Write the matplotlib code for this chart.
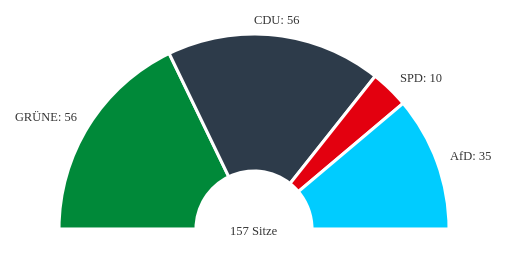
import numpy as np
import matplotlib
matplotlib.use("Agg")
from matplotlib import pyplot as plt

parties = ["GRÜNE", "CDU", "SPD", "AfD"]
seats = [56, 56, 10, 35]
colors = ["#008939", "#2D3B4A", "#E3000F", "#00CCFF"]

total = sum(seats)

fig = plt.figure(figsize=(5.17, 2.56), dpi=100)
ax = fig.add_axes([0, 0, 1, 1])

cx, cy = 254, 27
r_out, r_in = 195, 58

# the last (hidden) slice fills the lower half
wedges, _ = ax.pie(seats + [total], colors=colors + ["white"], startangle=180,
                   counterclock=False, radius=r_out, center=(cx, cy), frame=False,
                   wedgeprops=dict(width=r_out - r_in, edgecolor="white", linewidth=2.2))
wedges[-1].set_visible(False)

# labels around the arc
start = 180.0
for name, n in zip(parties, seats):
    span = n / total * 180.0
    mid = np.radians(start - span / 2)
    start -= span
    lx = cx + 209 * np.cos(mid)
    ly = cy + 209 * np.sin(mid)
    if np.cos(mid) < -0.2:
        ha = "right"
    elif np.cos(mid) > 0.2:
        ha = "left"
    else:
        ha = "center"
    ax.text(lx, ly, f"{name}: {n}", ha=ha, va="center", fontsize=9,
            family="Liberation Serif", color="#333333")

ax.text(cx, cy - 3, f"{total} Sitze", ha="center", va="center", fontsize=9,
        family="Liberation Serif", color="#333333")

ax.set_xlim(0, 517)
ax.set_ylim(0, 256)
ax.axis("off")

fig.savefig("out.png", dpi=100)
